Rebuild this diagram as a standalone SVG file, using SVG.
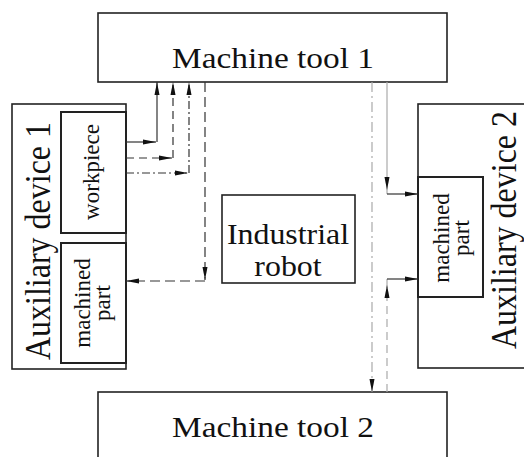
<svg xmlns="http://www.w3.org/2000/svg" width="524" height="457" viewBox="0 0 524 457">
<style>
.box{fill:#fff;stroke:#222;stroke-width:1.6}
.ibox{fill:#fff;stroke:#222;stroke-width:2}
.t{font-family:"Liberation Serif","Times New Roman",Times,"DejaVu Serif",serif;fill:#111}
.big{font-size:29px}
.side{font-size:32px}
.small{font-size:23px}
.c{fill:none;stroke:#333;stroke-width:1.2}
.g{fill:none;stroke:#aaa;stroke-width:1.2}
.dash{stroke-dasharray:8 5}
.ldash{stroke-dasharray:10 5}
.dd{stroke-dasharray:8 3 2 3}
.gdd{stroke-dasharray:10 4 2 4}
</style>
<defs>
<marker id="ah" markerUnits="userSpaceOnUse" markerWidth="14" markerHeight="6" refX="13" refY="3" orient="auto">
<path d="M0,0.5 L13,3 L0,5.5 z" fill="#111"/>
</marker>
</defs>
<rect width="524" height="457" fill="#fff"/>
<g id="machine-tool-1">
<rect class="box" x="98" y="13" width="349" height="69"/>
<text class="t big" text-anchor="middle" transform="translate(273,68) scale(1.15,1)">Machine tool 1</text>
</g>
<g id="machine-tool-2">
<rect class="box" x="98" y="392" width="349" height="80"/>
<text class="t big" text-anchor="middle" transform="translate(273,437) scale(1.15,1)">Machine tool 2</text>
</g>
<g id="industrial-robot">
<rect class="box" x="222" y="195" width="133" height="88"/>
<text class="t big" text-anchor="middle" transform="translate(288,244) scale(1.1,1)">Industrial</text>
<text class="t big" text-anchor="middle" transform="translate(288,276) scale(1.1,1)">robot</text>
</g>
<g id="auxiliary-device-1">
<rect class="box" x="12" y="104" width="114" height="265"/>
<text class="t side" text-anchor="middle" transform="translate(50,241) rotate(-90) scale(1,1.15)">Auxiliary device 1</text>
</g>
<g id="workpiece">
<rect class="ibox" x="61" y="112" width="65" height="121"/>
<text class="t small" text-anchor="middle" transform="translate(99,172) rotate(-90)">workpiece</text>
</g>
<g id="machined-part-1">
<rect class="ibox" x="61" y="243" width="65" height="120"/>
<text class="t small" text-anchor="middle" transform="translate(93,303) rotate(-90)"><tspan x="0" y="-3">machined</tspan><tspan x="0" y="17">part</tspan></text>
</g>
<g id="auxiliary-device-2">
<rect class="box" x="418" y="104" width="110" height="264"/>
<text class="t side" text-anchor="middle" transform="translate(516,230) rotate(-90) scale(1,1.15)">Auxiliary device 2</text>
</g>
<g id="machined-part-2">
<rect class="ibox" x="418" y="177" width="65" height="120"/>
<text class="t small" text-anchor="middle" transform="translate(450,238) rotate(-90)"><tspan x="0" y="-1">machined</tspan><tspan x="0" y="19">part</tspan></text>
</g>
<g id="connectors">
<path class="c" d="M126,142 H156" marker-end="url(#ah)"/>
<path class="c" d="M157,142 V82" marker-end="url(#ah)"/>
<path class="c dash" d="M126,158 H172" marker-end="url(#ah)"/>
<path class="c dash" d="M173,158 V82" marker-end="url(#ah)"/>
<path class="c dd" d="M126,173 H188" marker-end="url(#ah)"/>
<path class="c dd" d="M189,173 V82" marker-end="url(#ah)"/>
<path class="c ldash" d="M205,82 V280" marker-end="url(#ah)"/>
<path class="c ldash" d="M205,281 H126" marker-end="url(#ah)"/>
<path class="g gdd" d="M372,82 V392" marker-end="url(#ah)"/>
<path class="g" d="M387,82 V190" marker-end="url(#ah)"/>
<path class="g" d="M387,190 V194"/>
<path class="c" d="M387,194 H418" marker-end="url(#ah)"/>
<path class="g dash" d="M387,392 V285" marker-end="url(#ah)"/>
<path class="g" d="M387,285 V279"/>
<path class="c" d="M387,279 H418" marker-end="url(#ah)"/>
</g>
</svg>
